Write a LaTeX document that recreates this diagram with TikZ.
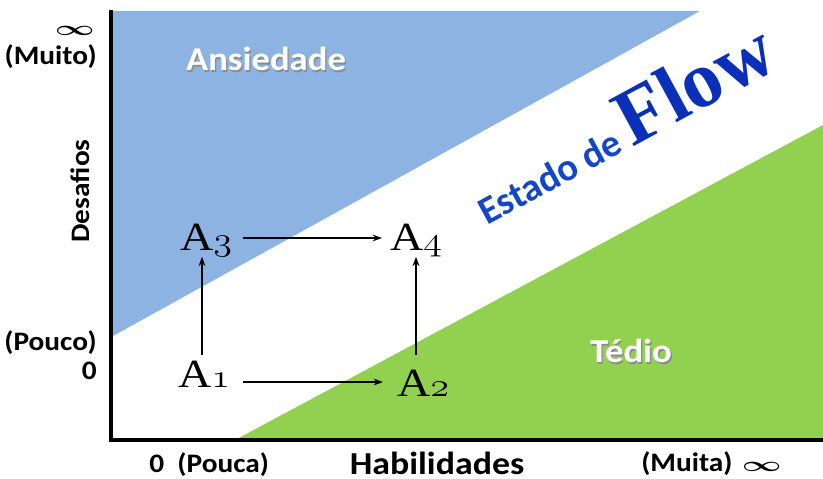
\documentclass[tikz,border=0pt]{standalone}
\usepackage{fontspec}
\setmainfont{Liberation Serif}
\newfontfamily\labfont[FakeStretch=1.1]{Carlito}
\newfontfamily\habfont[FakeStretch=1.12]{Carlito}
\newfontfamily\flowsans{Carlito}
\usetikzlibrary{arrows.meta}
\definecolor{blueA}{HTML}{8DB3E2}
\definecolor{greenT}{HTML}{92D050}
\definecolor{flowblue}{HTML}{1446C8}
\definecolor{flowdark}{HTML}{0A2FB8}
\newcommand{\osn}[1]{{\usefont{OML}{lmm}{m}{it}#1}}
\newcommand{\bigInf}{{\fontsize{16}{16}\selectfont\scalebox{1.5}[0.9]{\boldmath$\infty$}}}
\newcommand{\shd}[1]{\rlap{\hspace{1pt}\raisebox{-1pt}{\color{black!45}#1}}{\color{white}#1}}
\newcommand{\ptlab}[2]{\scalebox{1.15}[1]{A\osn{#2}}}
\begin{document}
\begin{tikzpicture}[x=0.75pt,y=-0.75pt,
  lab/.style={inner sep=0pt, font=\fontsize{20}{24}\labfont\bfseries},
  region/.style={inner sep=0pt, font=\fontsize{25}{30}\labfont\bfseries},
  pt/.style={inner sep=0pt, anchor=base west, font=\fontsize{30}{34}\selectfont},
  arr/.style={line width=1.1pt, -{Stealth[length=7pt,width=5pt]}},
  axis/.style={line width=2.8pt}]
\useasboundingbox (0,0) rectangle (823,478);
% regions
\fill[blueA] (113,11) -- (700,11) -- (113,336) -- cycle;
\fill[greenT] (235,440) -- (823,125) -- (823,440) -- cycle;
% axes
\coordinate (top) at (111,10);
\coordinate (orig) at (111,440);
\coordinate (right) at (823,440);
\draw[axis] (top) -- (orig) -- (right);
% axis labels
\node[lab, anchor=east] (inf1) at (95,31) {\bigInf};
\node[lab, anchor=east] (muito) at (97,57) {(Muito)};
\node[lab, rotate=90] (desafios) at (80,191) {Desafios};
\node[lab, anchor=east] (pouco) at (97,343) {(Pouco)};
\node[lab, anchor=east] (zero1) at (97,371) {0};
\node[lab, anchor=base west] (pouca) at (149,472) {0\enspace(Pouca)};
\node[inner sep=0pt, anchor=base, font=\fontsize{24}{28}\habfont\bfseries] (hab) at (437,474) {Habilidades};
\node[lab, anchor=base west] (muita) at (641,471) {(Muita)\hspace{0.35em}\bigInf};
% region labels
\node[region] (ans) at (266,60) {\shd{Ansiedade}};
\node[region] (ted) at (631,352) {\shd{Tédio}};
% flow
\node[inner sep=0pt, anchor=base west, rotate=28.5] (flow) at (487,226)
  {{\fontsize{29}{34}\flowsans\bfseries\color{flowblue}Estado de }{\fontsize{60}{64}\selectfont\bfseries\color{flowdark}Flow}};
% points
\node[pt] (A1) at (178,387) {\ptlab A1};
\node[pt] (A2) at (397,396) {\ptlab A2};
\node[pt] (A3) at (180,250) {\ptlab A3};
\node[pt] (A4) at (390,250) {\ptlab A4};
% arrows
\coordinate (h12) at (243,382);
\draw[arr, shorten >=10.5pt] (h12) -- (h12 -| A2.west);
\coordinate (h34) at (243,238);
\draw[arr, shorten >=6pt] (h34) -- (h34 -| A4.west);
\coordinate (v13) at (202,355);
\draw[arr] (v13) -- (v13 |- A3.south);
\coordinate (v24) at (416,355);
\draw[arr] (v24) -- (v24 |- A4.south);
\end{tikzpicture}
\end{document}
